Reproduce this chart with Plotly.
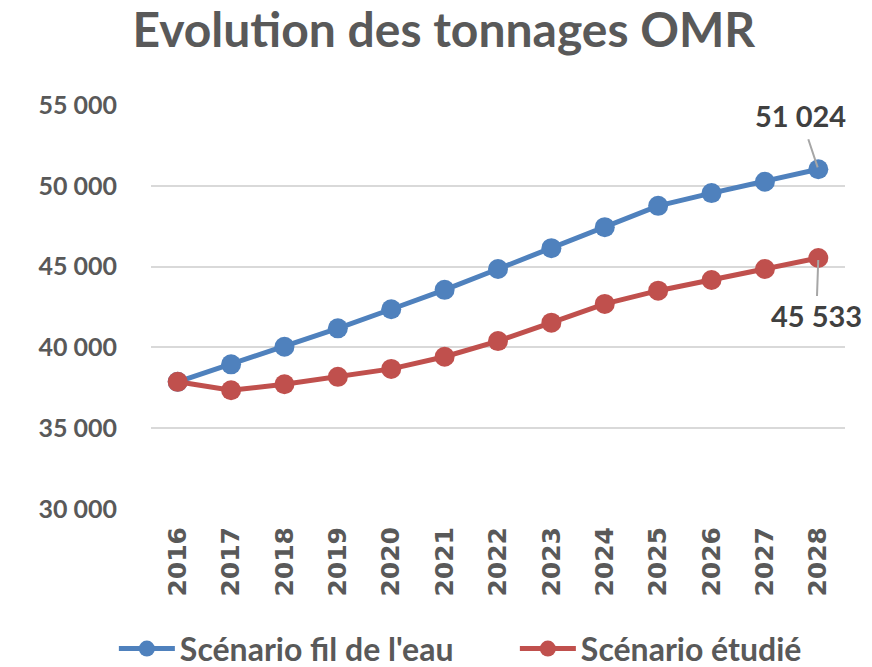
import plotly.graph_objects as go

years = ["2016", "2017", "2018", "2019", "2020", "2021", "2022", "2023", "2024", "2025", "2026", "2027", "2028"]
fil_de_leau = [37870, 38950, 40040, 41180, 42360, 43560, 44850, 46140, 47440, 48760, 49550, 50250, 51024]
etudie = [37870, 37350, 37720, 38180, 38670, 39420, 40390, 41530, 42690, 43510, 44170, 44850, 45533]
y_ticks = [30000, 35000, 40000, 45000, 50000, 55000]
y_tick_labels = ["30 000", "35 000", "40 000", "45 000", "50 000", "55 000"]
last_labels = ["51 024", "45 533"]

BLUE = "#4F81BD"
RED = "#C0504D"
GREY = "#595959"
FONT = "Lato"

fig = go.Figure()
fig.add_trace(go.Scatter(x=years, y=fil_de_leau, name="Scénario fil de l'eau", mode="lines+markers",
                         line=dict(color=BLUE, width=5), marker=dict(color=BLUE, size=20)))
fig.add_trace(go.Scatter(x=years, y=etudie, name="Scénario étudié", mode="lines+markers",
                         line=dict(color=RED, width=5), marker=dict(color=RED, size=20)))

last_idx = len(years) - 1
fig.add_annotation(x=last_idx, y=fil_de_leau[-1], xref="x", yref="y", text=last_labels[0], showarrow=True,
                   arrowhead=0, arrowcolor="#A6A6A6", arrowwidth=2, ax=-18, ay=-54, standoff=2, borderpad=6,
                   font=dict(family=FONT, size=29, color="#404040", weight="bold"))
fig.add_annotation(x=last_idx, y=etudie[-1], xref="x", yref="y", text=last_labels[1], showarrow=True,
                   arrowhead=0, arrowcolor="#A6A6A6", arrowwidth=2, ax=-2, ay=58, standoff=2, borderpad=2,
                   font=dict(family=FONT, size=29, color="#404040", weight="bold"))

fig.update_layout(
    width=872, height=667,
    margin=dict(l=151, r=27, t=105, b=158, autoexpand=False),
    paper_bgcolor="white", plot_bgcolor="white",
    title=dict(text="Evolution des tonnages OMR", x=0.509, xanchor="center", y=0.955, yanchor="middle",
               font=dict(family=FONT, size=48, color=GREY, weight="bold")),
    font=dict(family=FONT, color=GREY),
    showlegend=True,
    legend=dict(orientation="h", x=-0.0535, xanchor="left", y=-0.346, yanchor="middle",
                font=dict(family=FONT, size=32, color=GREY, weight="bold"),
                itemwidth=56, tracegroupgap=0, entrywidth=330, entrywidthmode="pixels"),
    xaxis=dict(type="category", range=[-0.5, 12.5], tickangle=-90, showgrid=False, showline=False,
               ticks="", ticklabelstandoff=12,
               tickfont=dict(family="DejaVu Sans", size=25, color=GREY, weight="bold")),
    yaxis=dict(range=[30000, 55000], tickvals=y_ticks, ticktext=y_tick_labels, showgrid=True,
               gridcolor="#D9D9D9", gridwidth=1.5, zeroline=False, showline=False, ticks="",
               ticklen=0, ticklabelstandoff=33,
               tickfont=dict(family=FONT, size=25, color=GREY, weight="bold")),
)

fig.write_html("out.html", post_script="document.body.style.margin='0';",
               config={"displayModeBar": False})
